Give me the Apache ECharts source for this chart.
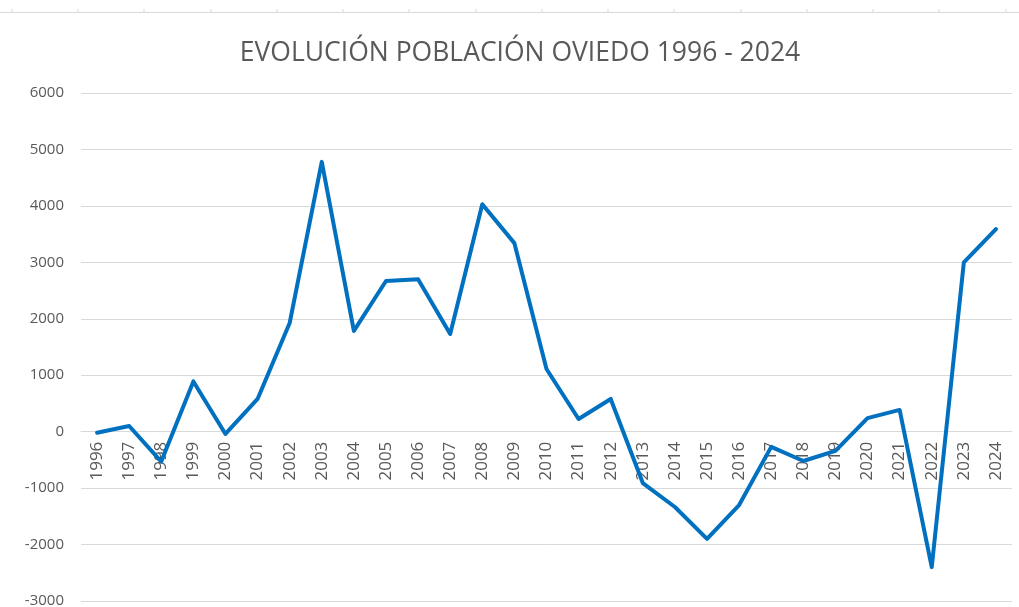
<!DOCTYPE html>
<html>
<head>
<meta charset="utf-8">
<script src="https://cdn.jsdelivr.net/npm/echarts@6/dist/echarts.min.js"></script>
<style>html,body{margin:0;padding:0;background:#fff}#c{width:1019px;height:607px}</style>
</head>
<body>
<div id="c"></div>
<script>
const years = ['1996','1997','1998','1999','2000','2001','2002','2003','2004','2005','2006','2007','2008','2009','2010','2011','2012','2013','2014','2015','2016','2017','2018','2019','2020','2021','2022','2023','2024'];
const values = [-18, 100, -530, 890, -40, 580, 1925, 4780, 1785, 2670, 2700, 1730, 4030, 3340, 1110, 225, 580, -910, -1335, -1900, -1300, -270, -520, -340, 240, 385, -2400, 3000, 3590];
const yMin = -3000, yMax = 6000, yStep = 1000;
const titleText = 'EVOLUCIÓN POBLACIÓN OVIEDO 1996 - 2024';

const plotTop = 93, plotBottom = 601;
const zeroY = plotTop + (plotBottom - plotTop) * (yMax - 0) / (yMax - yMin);

const chart = echarts.init(document.getElementById('c'));
const headerTicks = [12, 78, 144, 211, 277, 343, 409, 476, 542, 608, 674, 741, 807, 873, 939, 1006].map(x => ({
  type: 'line', shape: {x1: x, y1: 9, x2: x, y2: 12}, style: {stroke: '#d9d9d9', lineWidth: 1}, silent: true
}));
const labelFont = 'Open Sans, Liberation Sans, sans-serif';
chart.setOption({
  animation: false,
  backgroundColor: '#fff',
  title: {
    text: titleText, left: 515, textAlign: 'center', top: 35,
    textStyle: {fontFamily: labelFont, fontSize: 26.5, fontWeight: 'normal', color: '#595959'}
  },
  graphic: [
    {type: 'line', shape: {x1: 0, y1: 12.5, x2: 1019, y2: 12.5}, style: {stroke: '#d9d9d9', lineWidth: 1}, silent: true}
  ].concat(headerTicks),
  grid: [
    {left: 81, right: 7, top: plotTop, bottom: 607 - plotBottom, containLabel: false, outerBoundsMode: 'none'},
    {left: 81, right: 7, top: plotTop, height: zeroY - plotTop, containLabel: false, outerBoundsMode: 'none'}
  ],
  xAxis: [{
    gridIndex: 0, type: 'category', data: years, boundaryGap: true,
    axisLine: {show: true, onZero: true, lineStyle: {color: '#d9d9d9', width: 1}},
    axisTick: {show: false},
    axisLabel: {show: false}
  }, {
    gridIndex: 1, type: 'category', data: years, boundaryGap: true,
    axisLine: {show: false}, axisTick: {show: false},
    axisLabel: {rotate: 90, margin: 10, color: '#595959', fontSize: 17, fontFamily: labelFont, interval: 0}
  }],
  yAxis: [{
    gridIndex: 0, type: 'value', min: yMin, max: yMax, interval: yStep,
    axisLine: {show: false}, axisTick: {show: false},
    splitLine: {lineStyle: {color: '#d9d9d9', width: 1}},
    axisLabel: {margin: 17, color: '#595959', fontSize: 15, fontFamily: labelFont, formatter: v => String(v)}
  }, {
    gridIndex: 1, type: 'value', min: 0, max: 1, show: false
  }],
  series: [{
    type: 'line', data: values, symbol: 'none', xAxisIndex: 0, yAxisIndex: 0,
    lineStyle: {color: '#0070C0', width: 4, join: 'round', cap: 'round'},
    itemStyle: {color: '#0070C0'}
  }]
});
</script>
</body>
</html>
